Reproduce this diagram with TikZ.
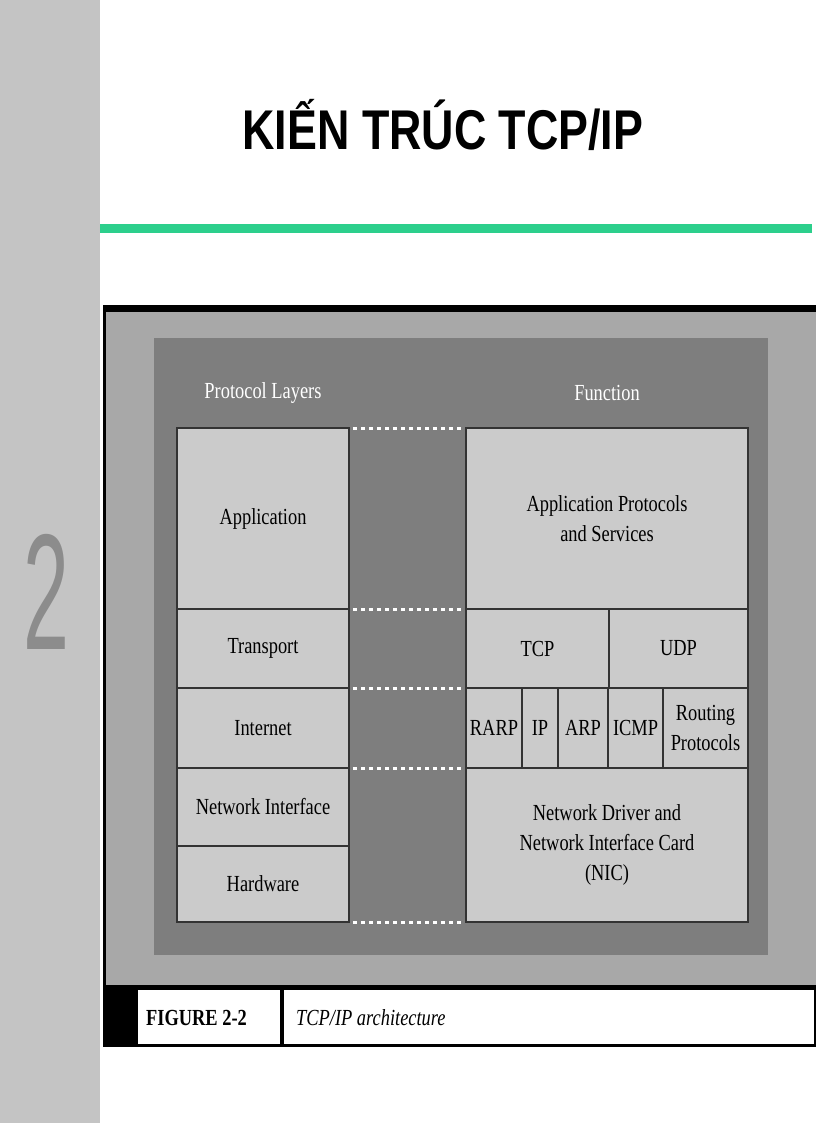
\documentclass[tikz,border=0pt]{standalone}
\usepackage{fontspec}
\setmainfont{Liberation Serif}
\newfontfamily\titlefont{Liberation Sans}
\definecolor{strip}{HTML}{C4C4C4}
\definecolor{frame}{HTML}{A8A8A8}
\definecolor{panel}{HTML}{7E7E7E}
\definecolor{boxc}{HTML}{CBCBCB}
\definecolor{grn}{HTML}{2CCF8C}
\tikzset{x=1pt,y=-1pt,
 lay/.style={draw=black!80,line width=1.2pt,fill=boxc},
 lbl/.style={font=\fontsize{23}{30}\selectfont,align=center,inner sep=0pt,xscale=0.8},
 dots/.style={white,line width=3pt,dash pattern=on 4pt off 4pt}}
\begin{document}
\begin{tikzpicture}
\useasboundingbox (0,0) rectangle (816,1123);
\fill[white] (0,0) rectangle (816,1123);
\fill[strip] (0,0) rectangle (100,1123);
\node[font=\fontsize{165}{165}\selectfont\titlefont,text=black!45,xscale=0.5] (two) at (46,592) {2};
\node[font=\fontsize{56}{60}\selectfont\bfseries\titlefont,xscale=0.8] (title) at (443,125) {KIẾN TRÚC TCP/IP};
\fill[grn] (100,224) rectangle (812,233);
% figure
\fill[black] (103,305) rectangle (816,1047);
\fill[frame] (106,312) rectangle (816,985);
\fill[panel] (154,338) rectangle (768,955);
\fill[white] (138,990) rectangle (280,1044);
\fill[white] (284,990) rectangle (814,1044);
\node[lbl,font=\fontsize{23}{26}\selectfont\bfseries,anchor=west] (fig) at (146,1018) {FIGURE 2-2};
\node[lbl,font=\fontsize{23}{26}\selectfont\itshape,anchor=west] (cap) at (296,1018) {TCP/IP architecture};
\node[lbl,text=white] (h1) at (263,393) {Protocol Layers};
\node[lbl,text=white] (h2) at (607,393) {Function};
% left column
\draw[lay] (177,428) rectangle node[lbl] (app) {Application} (349,609);
\draw[lay] (177,609) rectangle node[lbl] (tr) {Transport} (349,688);
\draw[lay] (177,688) rectangle node[lbl] (in) {Internet} (349,768);
\draw[lay] (177,768) rectangle node[lbl] (ni) {Network Interface} (349,846);
\draw[lay] (177,846) rectangle node[lbl] (hw) {Hardware} (349,922);
% right column
\draw[lay] (466,428) rectangle node[lbl] (aps) {Application Protocols\\and Services} (748,609);
\draw[lay] (466,609) rectangle node[lbl] (tcp) {TCP} (609,688);
\draw[lay] (609,609) rectangle node[lbl] (udp) {UDP} (748,688);
\draw[lay] (466,688) rectangle node[lbl] (rarp) {RARP} (522,768);
\draw[lay] (522,688) rectangle node[lbl] (ip) {IP} (558,768);
\draw[lay] (558,688) rectangle node[lbl] (arp) {ARP} (608,768);
\draw[lay] (608,688) rectangle node[lbl] (icmp) {ICMP} (663,768);
\draw[lay] (663,688) rectangle node[lbl] (rp) {Routing\\Protocols} (748,768);
\draw[lay] (466,768) rectangle node[lbl] (nic) {Network Driver and\\Network Interface Card\\(NIC)} (748,922);
\foreach \y in {428,609,688,768,922} \draw[dots] (353,\y) -- (464,\y);
\end{tikzpicture}
\end{document}
